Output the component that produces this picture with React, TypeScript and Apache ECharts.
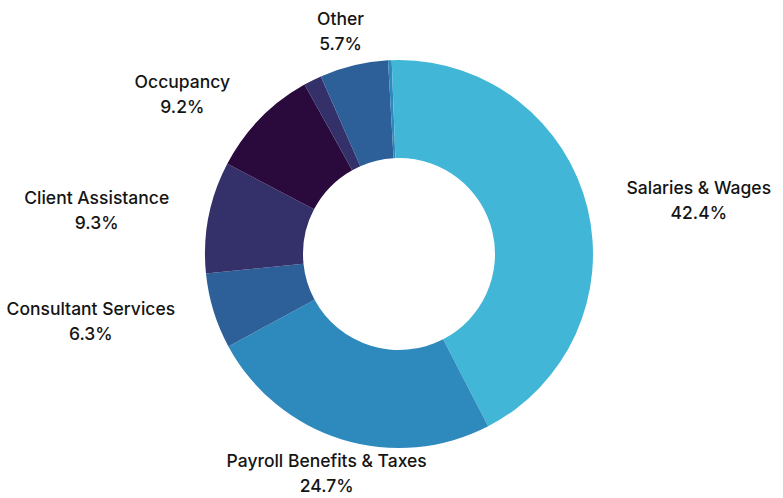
import React, { useEffect, useRef } from "react";
import * as echarts from "echarts";

const categories = [
  "Salaries & Wages",
  "Payroll Benefits & Taxes",
  "Consultant Services",
  "Client Assistance",
  "Occupancy",
  "Minor A",
  "Other",
  "Minor B",
  "Minor C",
];
const values = [42.4, 24.7, 6.3, 9.3, 9.2, 1.5, 5.7, 0.3, 0.6];
const showLabel = [true, true, true, true, true, false, true, false, false];
const colors = [
  "#42b6d6",
  "#2e8abd",
  "#2d5f99",
  "#33306a",
  "#2a0a3c",
  "#33306a",
  "#2d5f99",
  "#2e8abd",
  "#42b6d6",
];
const centeredLabels = ["Payroll Benefits & Taxes", "Other"];

export default function App() {
  const ref = useRef<HTMLDivElement>(null);
  useEffect(() => {
    if (!ref.current) return;
    const chart = echarts.init(ref.current, null, { renderer: "svg" });
    chart.setOption({
      animation: false,
      backgroundColor: "#ffffff",
      series: [
        {
          type: "pie",
          center: [399, 254],
          radius: [96, 194],
          startAngle: 90,
          clockwise: true,
          avoidLabelOverlap: false,
          label: {
            show: true,
            position: "outside",
            formatter: (p: any) => `${p.name}\n${p.value.toFixed(1)}%`,
            fontFamily: "Inter",
            fontWeight: 500,
            fontSize: 17.5,
            lineHeight: 25,
            color: "#141414",
          },
          labelLine: { show: false, length: 35, length2: 0 },
          labelLayout: (params: any) => {
            const name = categories[params.dataIndex];
            const r = params.labelRect;
            const isLeft = params.align === "right" || r.x + r.width < 399;
            let cx: number;
            if (centeredLabels.indexOf(name) >= 0) {
              cx = isLeft ? r.x + r.width : r.x;
            } else {
              cx = r.x + r.width / 2;
            }
            return { x: cx, align: "center" };
          },
          itemStyle: { borderWidth: 0 },
          data: categories.map((c, i) => ({
            name: c,
            value: values[i],
            itemStyle: { color: colors[i] },
            label: { show: showLabel[i] },
          })),
        },
      ],
    });
    return () => chart.dispose();
  }, []);
  return (
    <div
      ref={ref}
      style={{ position: "absolute", left: 0, top: 0, width: 783, height: 498 }}
    />
  );
}
